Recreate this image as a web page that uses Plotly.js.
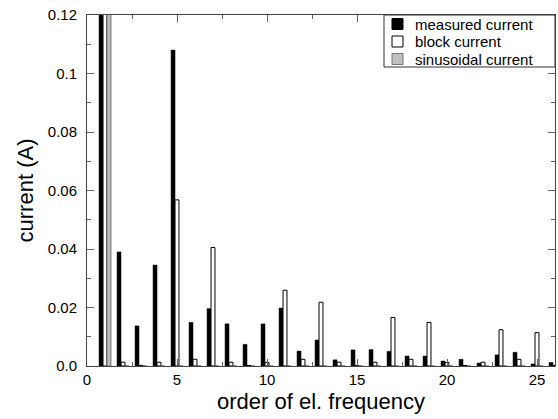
<!DOCTYPE html>
<html>
<head>
<meta charset="utf-8">
<script src="https://cdn.plot.ly/plotly-3.0.1.min.js"></script>
<style>html,body{margin:0;padding:0;background:#fff;}#chart{width:558px;height:419px;}</style>
</head>
<body>
<div id="chart"></div>
<script>
const orders = [1,2,3,4,5,6,7,8,9,10,11,12,13,14,15,16,17,18,19,20,21,22,23,24,25,26];
const measuredCurrent = [0.9,0.039,0.0137,0.0345,0.108,0.0149,0.0196,0.0144,0.0074,0.0144,0.0198,0.0051,0.0089,0.0021,0.0055,0.0056,0.005,0.0034,0.0034,0.0017,0.0023,0.001,0.0038,0.0047,0.0007,0.0012];
const blockCurrent = [0.9,0.0013,0.0002,0.0013,0.0568,0.0023,0.0405,0.0013,0.0002,0.0012,0.0259,0.0023,0.0218,0.0013,0.0002,0.0013,0.0166,0.0023,0.0149,0.0012,0.0002,0.0013,0.0124,0.0023,0.0114,0.0002];
const sinusoidalCurrent = [0.9,0,0,0,0,0,0,0,0,0,0,0,0,0,0,0,0,0,0,0,0,0,0,0,0,0];
const seriesNames = ['measured current','block current','sinusoidal current'];
const yTickVals = [0,0.02,0.04,0.06,0.08,0.1,0.12];
const yTickText = ['0.0','0.02','0.04','0.06','0.08','0.1','0.12'];
const xTickVals = [0,5,10,15,20,25];

const fills = ['#000000','#ffffff','#c0c0c0'];
const edges = ['#000000','#000000','#555555'];
const edgeW = [0.5,1,0.8];
const seriesY = [measuredCurrent, blockCurrent, sinusoidalCurrent];

const data = seriesY.map((y,i)=>({type:'bar', name:seriesNames[i], x:orders, y:y,
   marker:{color:fills[i], line:{color:edges[i], width:edgeW[i]}}}));

// plot area in pixels
const L=87, R=555, T=15, B=366;
const px = v => (v-L)/(R-L);
const py = v => (B-v)/(B-T);

const fontFam = 'Liberation Sans, Arial, sans-serif';
// custom legend (box, swatches, labels)
const lgBox = {x0:384, x1:555, y0:15, y1:67};
const rowY = [24, 41.5, 59];
const shapes = [{type:'rect', xref:'paper', yref:'paper', x0:px(lgBox.x0), x1:px(lgBox.x1),
                 y0:py(lgBox.y1), y1:py(lgBox.y0), fillcolor:'#ffffff', line:{color:'#333333', width:1}}];
const annotations = [];
seriesNames.forEach((n,i)=>{
  shapes.push({type:'rect', xref:'paper', yref:'paper', x0:px(392), x1:px(403),
    y0:py(rowY[i]+5.5), y1:py(rowY[i]-5.5), fillcolor:fills[i], line:{color:i===2?'#777':'#000', width:1}});
  annotations.push({xref:'paper', yref:'paper', x:px(414), y:py(rowY[i]), text:n, showarrow:false,
    xanchor:'left', yanchor:'middle', borderpad:0, font:{size:15, family:fontFam, color:'#000'}});
});

const layout = {
  width:558, height:419,
  margin:{l:L, r:558-R, t:T, b:419-B},
  paper_bgcolor:'#ffffff', plot_bgcolor:'#ffffff',
  barmode:'group', bargap:0.34, bargroupgap:0,
  font:{family:fontFam, size:15, color:'#000'},
  showlegend:false,
  shapes:shapes, annotations:annotations,
  xaxis:{range:[0,26], tickvals:xTickVals, ticks:'inside', ticklen:7, tickcolor:'#666',
         showline:true, linecolor:'#444', linewidth:1, mirror:'ticks', showgrid:false, zeroline:false,
         minor:{dtick:2.5, tick0:0, ticks:'inside', ticklen:4, tickcolor:'#666', showgrid:false},
         tickfont:{size:15}, title:{text:'order of el. frequency', font:{size:22}, standoff:6}},
  yaxis:{range:[0,0.12], tickvals:yTickVals, ticktext:yTickText, ticks:'inside', ticklen:7, tickcolor:'#666',
         showline:true, linecolor:'#444', linewidth:1, mirror:'ticks', showgrid:false, zeroline:false,
         ticklabelstandoff:6,
         minor:{tickvals:[0.01,0.03,0.05,0.07,0.09,0.11], ticks:'inside', ticklen:4, tickcolor:'#666', showgrid:false},
         tickfont:{size:15}, title:{text:'current (A)', font:{size:22}, standoff:8}}
};
Plotly.newPlot('chart', data, layout, {staticPlot:true, displayModeBar:false});
</script>
</body>
</html>
